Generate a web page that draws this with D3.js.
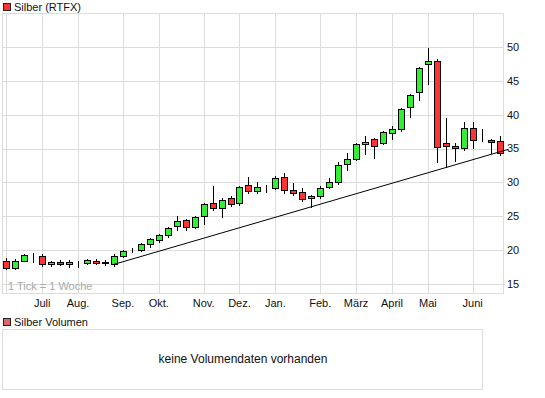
<!DOCTYPE html>
<html>
<head>
<meta charset="utf-8">
<script src="https://cdn.jsdelivr.net/npm/d3@7"></script>
<style>
  body { margin: 0; background: #fff; }
  text { font-family: "Liberation Sans", Arial, sans-serif; font-size: 11px; fill: #111; }
</style>
</head>
<body>
<script>
// weekly candles, first week starts Mon 31.05.2010
var firstWeek = new Date(2010, 4, 31);
var open  = [18.45,17.4,18.4,19.3,19.2,17.9,18.25,17.9,18.1,18.05,18.45,18.1,17.95,19.1,19.95,20.0,20.85,21.45,22.2,23.5,
             24.4,23.35,25.0,26.9,26.2,27.65,26.9,29.6,28.75,29.2,29.15,30.85,28.85,28.6,27.65,28.05,29.3,30.05,32.7,33.4,
             35.65,36.4,35.8,37.3,37.85,41.1,43.3,47.45,47.9,35.8,35.35,35.05,38.0,36.3,36.3,36.1];
var high  = [18.8,18.7,19.4,19.6,19.45,18.45,18.5,18.5,18.4,18.75,18.65,18.55,19.45,20.05,20.3,21.0,21.75,22.35,23.45,25.0,
             24.65,25.0,26.95,29.4,27.65,27.95,29.5,30.75,30.0,29.55,30.95,31.45,29.95,29.2,28.15,29.5,30.6,33.0,34.3,35.8,
             36.9,36.55,37.6,38.3,40.95,43.0,47.0,49.85,48.25,39.5,35.8,38.9,38.9,37.95,36.45,36.8];
var low   = [17.15,17.15,18.35,18.25,17.65,17.65,17.75,17.55,17.55,18.0,17.95,17.8,17.7,18.95,19.7,19.8,20.5,21.15,21.9,23.0,
             22.95,23.3,23.9,25.9,24.9,26.45,26.65,28.4,28.4,28.65,29.0,28.5,28.1,27.2,26.3,27.75,29.15,29.75,31.8,33.25,
             34.15,33.55,35.65,36.4,37.65,39.7,42.2,44.6,33.05,32.35,33.2,34.8,35.15,36.15,34.4,34.0];
var close = [17.4,18.35,19.28,19.25,17.9,18.25,17.95,18.25,18.15,18.5,18.15,18.2,19.1,19.9,20.0,20.85,21.6,22.2,23.2,24.25,
             23.4,24.85,26.75,26.2,27.35,26.75,29.3,28.75,29.3,29.25,30.7,28.85,28.4,27.5,27.95,29.15,30.05,32.55,33.45,35.65,
             35.95,35.35,37.4,37.9,40.8,42.85,46.85,48.0,35.3,35.35,35.05,38.0,36.3,36.25,36.0,34.3];

var monthLabels = ["Juli","Aug.","Sep.","Okt.","Nov.","Dez.","Jan.","Feb.","März","April","Mai","Juni"];
var yTicks = [15,20,25,30,35,40,45,50];

// trend line (support)
var trendDates  = [new Date(2010, 7, 23), new Date(2011, 5, 27)];
var trendValues = [17.9, 34.9];

var W = 545, H = 398;
var plot = {left: 2.5, top: 13.5, right: 503.5, bottom: 293.5};

var svg = d3.select("body").append("svg")
    .attr("width", W)
    .attr("height", H);

var weeks = open.map(function(d, i) { return d3.timeWeek.offset(firstWeek, i); });

var x = d3.scaleTime()
    .domain([firstWeek, weeks[weeks.length - 1]])
    .range([6.3, 499.6]);
var y = d3.scaleLinear().domain([15, 50]).range([284, 47]);

var px = function(v) { return Math.round(v) + 0.5; };

// grid
var grid = svg.append("g").attr("stroke", "#dcdcdc").attr("shape-rendering", "crispEdges");
yTicks.forEach(function(t) {
    grid.append("line").attr("x1", plot.left).attr("x2", plot.right)
        .attr("y1", px(y(t))).attr("y2", px(y(t)));
});
var monthStarts = d3.timeMonth.range(new Date(2010, 5, 1), new Date(2011, 6, 1));
var monthPos = monthStarts.map(function(m) { return x(d3.timeMonday.floor(m)); });
monthPos.forEach(function(p) {
    grid.append("line").attr("x1", px(p)).attr("x2", px(p))
        .attr("y1", plot.top).attr("y2", plot.bottom);
});
grid.append("rect")
    .attr("x", plot.left).attr("y", plot.top)
    .attr("width", plot.right - plot.left).attr("height", plot.bottom - plot.top)
    .attr("fill", "none");

svg.append("text").attr("x", 8).attr("y", 290).style("fill", "#a8a8a8").text("1 Tick = 1 Woche");

// candles
var cg = svg.append("g").attr("shape-rendering", "crispEdges");
weeks.forEach(function(d, i) {
    var cx = px(x(d));
    cg.append("line")
        .attr("x1", cx).attr("x2", cx)
        .attr("y1", Math.round(y(high[i]))).attr("y2", Math.round(y(low[i])) + 1)
        .attr("stroke", "#000");
    var top = Math.round(y(Math.max(open[i], close[i])));
    var bot = Math.round(y(Math.min(open[i], close[i])));
    cg.append("rect")
        .attr("x", cx - 3).attr("y", top + 0.5)
        .attr("width", 6).attr("height", bot - top)
        .attr("fill", close[i] >= open[i] ? "#33ee33" : "#ff3333")
        .attr("stroke", "#000");
});

// trend line
svg.append("path")
    .datum(trendDates.map(function(d, i) { return [d, trendValues[i]]; }))
    .attr("d", d3.line().x(function(d) { return x(d[0]); }).y(function(d) { return y(d[1]); }))
    .attr("fill", "none").attr("stroke", "#000").attr("stroke-width", 1);

// axes labels
yTicks.forEach(function(t) {
    svg.append("text").attr("x", 507).attr("y", y(t)).attr("dy", "0.35em").text(t);
});
monthLabels.forEach(function(m, i) {
    svg.append("text").attr("x", monthPos[i + 1]).attr("y", 307)
        .attr("text-anchor", "middle").text(m);
});

// legends
svg.append("rect").attr("x", 3.5).attr("y", 3.5).attr("width", 7).attr("height", 7)
    .attr("fill", "#ff3333").attr("stroke", "#222").attr("shape-rendering", "crispEdges");
svg.append("text").attr("x", 14).attr("y", 11).text("Silber (RTFX)");

svg.append("rect").attr("x", 3.5).attr("y", 318.5).attr("width", 7).attr("height", 7)
    .attr("fill", "#dd6666").attr("stroke", "#222").attr("shape-rendering", "crispEdges");
svg.append("text").attr("x", 14).attr("y", 326).text("Silber Volumen");

// volume panel
svg.append("rect").attr("x", 2.5).attr("y", 329.5).attr("width", 480).attr("height", 60)
    .attr("fill", "none").attr("stroke", "#dcdcdc").attr("shape-rendering", "crispEdges");
svg.append("text").attr("x", 243).attr("y", 363).attr("text-anchor", "middle")
    .style("font-size", "12px").text("keine Volumendaten vorhanden");
</script>
</body>
</html>
